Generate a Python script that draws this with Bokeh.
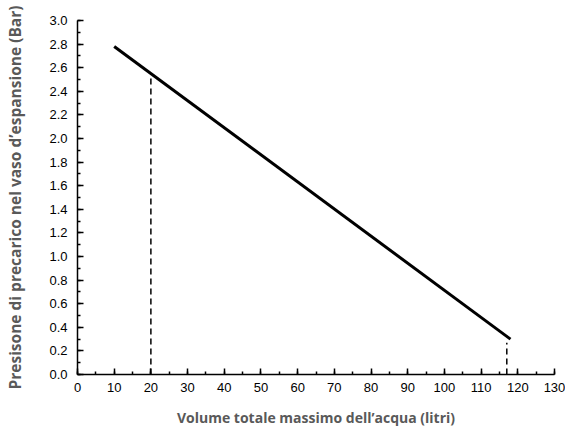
from bokeh.plotting import figure
from bokeh.models import Range1d, SingleIntervalTicker, Title, NumeralTickFormatter
from bokeh.embed import file_html
from bokeh.resources import INLINE

# data
line_x = [10, 118]
line_y = [2.78, 0.30]
drop1_x = [20, 20]
drop1_y = [0.0, 2.55]
drop2_x = [117, 117]
drop2_y = [0.0, 0.27]
x_label = "Volume totale massimo dell\u2019acqua (litri)"
y_label = "Presisone di precarico nel vaso d\u2019espansione (Bar)"

p = figure(width=565, height=434, output_backend="svg", toolbar_location=None,
           x_range=Range1d(0, 130), y_range=Range1d(0, 3.0),
           min_border_left=77, min_border_right=11, min_border_top=20, min_border_bottom=60)
p.outline_line_color = None
p.xgrid.visible = False
p.ygrid.visible = False

p.line(line_x, line_y, line_width=3, line_color="black")
p.line(drop1_x, drop1_y, line_width=1.5, line_color="black", line_dash="6 4")
p.line(drop2_x, drop2_y, line_width=1.5, line_color="black", line_dash="6 4")

for ax in (p.xaxis[0], p.yaxis[0]):
    ax.axis_line_color = "black"
    ax.axis_line_width = 1.5
    ax.major_tick_line_color = "black"
    ax.major_tick_line_width = 1.5
    ax.minor_tick_line_color = "black"
    ax.minor_tick_line_width = 1.5
    ax.major_tick_in = 6
    ax.major_tick_out = 0
    ax.minor_tick_in = 3
    ax.minor_tick_out = 0
    ax.major_label_text_font = "Arial"
    ax.major_label_text_font_size = "13px"
    ax.major_label_text_color = "black"

p.xaxis[0].ticker = SingleIntervalTicker(interval=10, num_minor_ticks=2)
p.yaxis[0].ticker = SingleIntervalTicker(interval=0.2, num_minor_ticks=2)
p.xaxis[0].major_label_standoff = 8
p.yaxis[0].major_label_standoff = 10
p.yaxis[0].formatter = NumeralTickFormatter(format="0.0")

p.yaxis[0].axis_label = y_label
p.yaxis[0].axis_label_text_font = "Open Sans"
p.yaxis[0].axis_label_text_font_style = "bold"
p.yaxis[0].axis_label_text_font_size = "15.5px"
p.yaxis[0].axis_label_text_color = "#595959"
p.yaxis[0].axis_label_standoff = 20

t = Title(text=x_label, align="center", offset=-25, text_font="Open Sans",
          text_font_style="bold", text_font_size="14px", text_color="#595959",
          standoff=0, vertical_align="top")
try:
    t.padding = dict(left=0, right=0, top=13, bottom=0)
except Exception:
    t.standoff = 14
p.add_layout(t, "below")

open("out.html", "w").write(file_html(p, INLINE))
